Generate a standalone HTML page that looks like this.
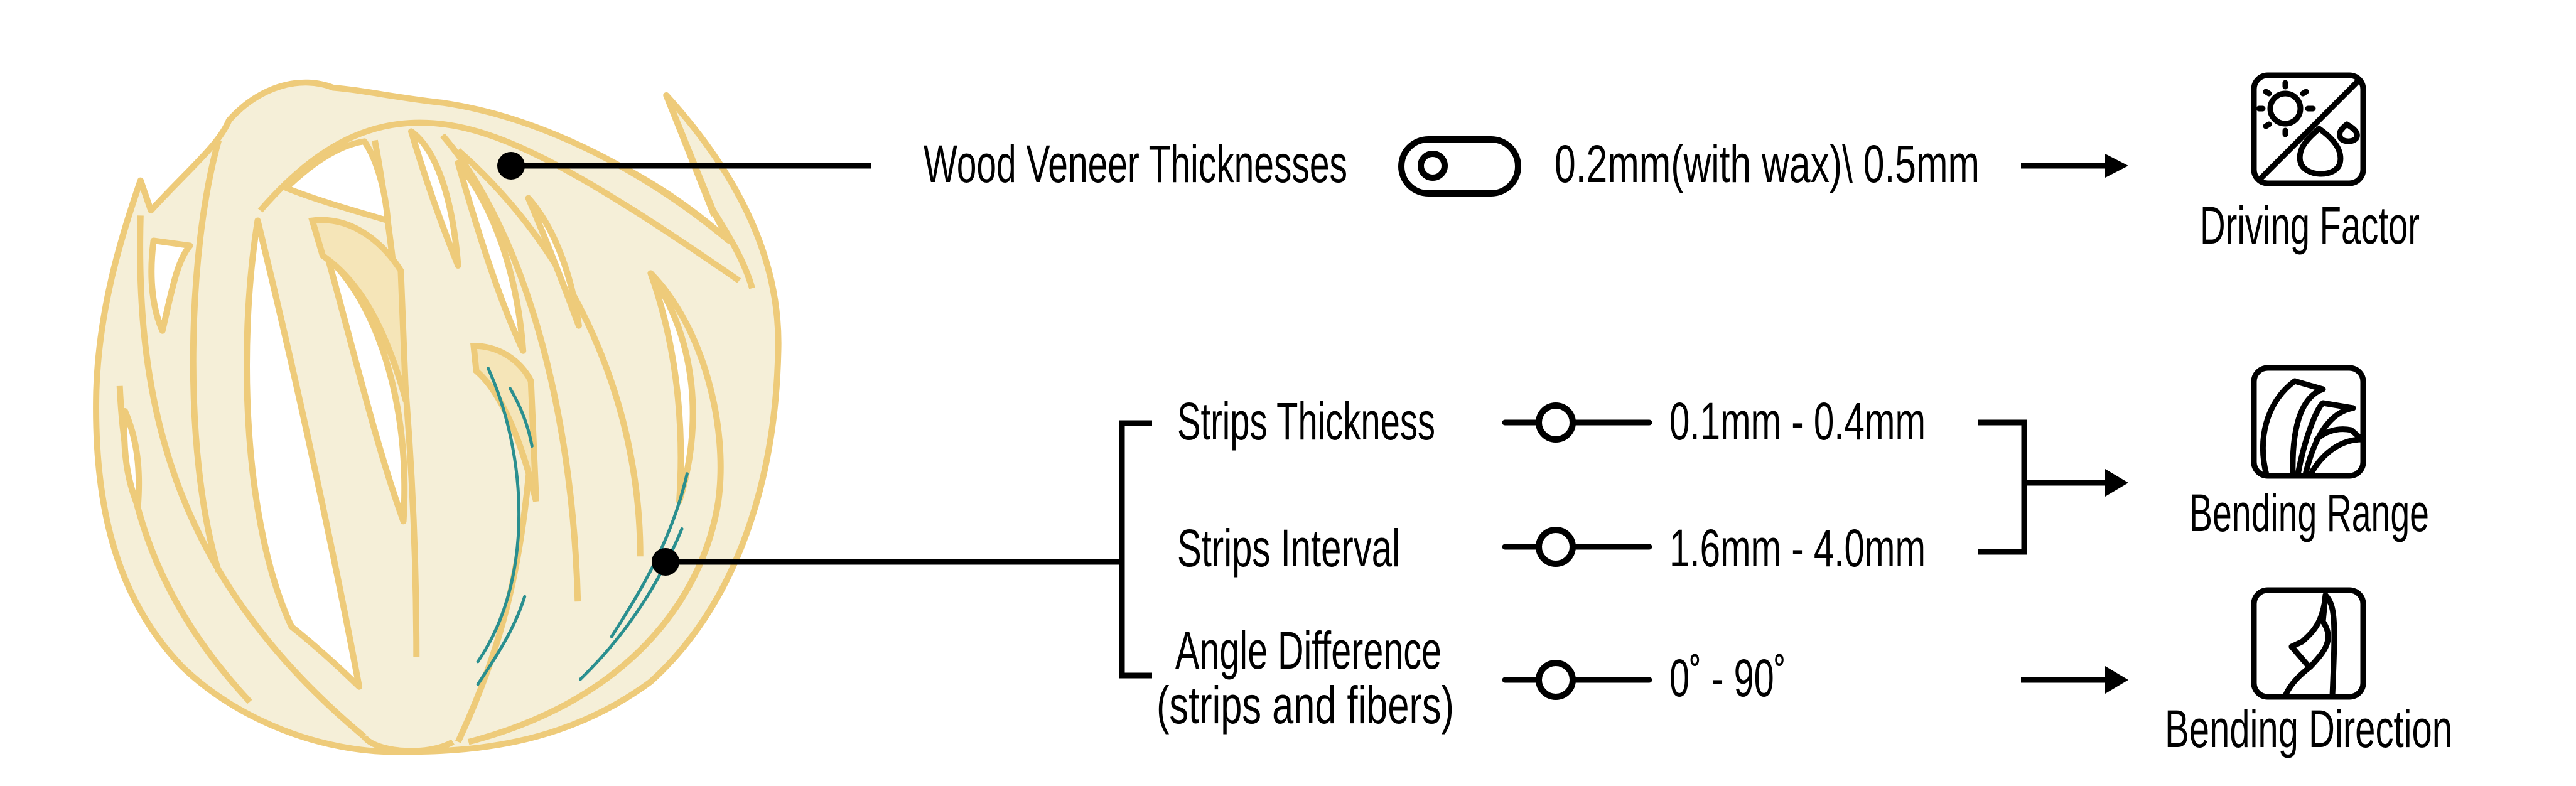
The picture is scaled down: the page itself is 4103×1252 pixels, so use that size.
<!DOCTYPE html>
<html><head><meta charset="utf-8"><style>html,body{margin:0;padding:0;background:#fff;width:4103px;height:1252px;overflow:hidden}</style></head>
<body>
<svg width="4103" height="1252" viewBox="0 0 4103 1252" xmlns="http://www.w3.org/2000/svg" font-family="'Liberation Sans', sans-serif" font-size="84">
<!-- Ball -->
<svg x="0" y="0" width="1300" height="1252" viewBox="0 0 1568 1568" preserveAspectRatio="none">
 <g fill="#f5efd8" stroke="#eecb7a" stroke-width="12" stroke-linejoin="round">
  <path d="M270,360 L290,420 C360,340 420,290 440,240 C500,170 580,150 640,175 C700,180 760,195 850,205 C1050,235 1250,350 1400,480 L1370,420 L1280,190 C1420,350 1500,520 1495,700 C1490,950 1420,1200 1250,1360 C1080,1490 900,1500 760,1500 C620,1500 460,1440 350,1330 C220,1190 180,1000 185,780 C190,620 230,480 270,360 Z"/>
 </g>
 <path d="M1279,390 C1320,415 1350,440 1372,455 L1366,425 L1285,205 Z" fill="#fff"/>
 <g fill="none" stroke="#eecb7a" stroke-width="12" stroke-linejoin="round">
  <path d="M1280,190 L1372,430"/>
  <path d="M1200,335 C1280,380 1340,425 1400,480"/>
  <path d="M1370,420 C1400,470 1430,520 1445,575"/>
  <path d="M230,770 C240,1000 300,1200 480,1400"/>
  <path d="M420,280 C360,500 350,900 420,1140"/>
  <path d="M720,280 C760,500 800,900 800,1310"/>
  <path d="M850,270 C1000,450 1100,800 1110,1200"/>
  <path d="M880,300 C1100,500 1230,800 1230,1110"/>
  <path d="M500,420 C600,300 700,240 820,245 C950,250 1100,330 1420,560"/>
  <path d="M1250,545 C1350,650 1400,850 1380,1000 C1350,1200 1200,1400 900,1480"/>
  <path d="M270,430 C260,800 330,1150 700,1470"/>
  <path d="M1020,900 C1000,1150 960,1300 880,1480"/>
  <path d="M700,1470 C720,1500 820,1510 870,1480"/>
 </g>
 <g fill="#fff" stroke="#eecb7a" stroke-width="12" stroke-linejoin="round">
  <path d="M495,440 C455,700 470,1050 560,1250 C620,1300 660,1340 690,1370 C650,1150 580,800 495,440 Z"/>
  <path d="M630,515 C720,600 790,800 775,1040 C720,880 680,700 630,515 Z"/>
  <path d="M550,375 C600,325 650,290 700,282 C725,320 740,380 745,440 C680,420 610,400 550,375 Z"/>
  <path d="M790,262 C840,300 870,400 880,530 C845,440 815,350 790,262 Z"/>
  <path d="M880,325 C955,420 995,560 1005,700 C960,600 920,470 880,325 Z"/>
  <path d="M1250,545 C1300,690 1315,850 1305,1000 C1350,850 1340,680 1250,545 Z"/>
  <path d="M1015,395 C1070,460 1100,560 1112,650 C1080,560 1050,480 1015,395 Z"/>
  <path d="M295,480 C285,560 295,620 312,660 C330,580 340,520 365,490 Z"/>
  <path d="M240,820 C235,900 245,960 265,1010 C270,940 265,880 240,820 Z"/>
 </g>
 <g fill="#f5e5b8" stroke="#eecb7a" stroke-width="12">
  <path d="M600,440 C680,430 740,490 770,540 L780,800 C740,650 690,560 620,510 Z"/>
  <path d="M910,690 C960,690 1000,720 1020,760 L1030,1000 C1000,870 960,780 915,740 Z"/>
 </g>
 <g fill="none" stroke="#2a8f8f" stroke-width="6" stroke-linecap="round">
  <path d="M938,735 C1010,900 1030,1150 918,1320"/>
  <path d="M980,775 C1000,810 1015,850 1022,890"/>
  <path d="M918,1365 C960,1300 990,1250 1008,1190"/>
  <path d="M1320,945 C1290,1080 1230,1180 1175,1270"/>
  <path d="M1310,1055 C1260,1180 1190,1280 1115,1355"/>
 </g>
</svg>
<!-- connectors -->
<g stroke="#000" stroke-width="9" fill="none">
 <line x1="814" y1="264" x2="1387" y2="264"/>
 <line x1="1060" y1="895" x2="1787" y2="895"/>
 <polyline points="1835,674 1787,674 1787,1076 1835,1076"/>
 <polyline points="3150,673 3224,673 3224,879 3150,879"/>
 <line x1="3224" y1="769" x2="3360" y2="769"/>
 <line x1="3219" y1="264" x2="3360" y2="264"/>
 <line x1="3219" y1="1083" x2="3360" y2="1083"/>
 <line x1="2397" y1="673" x2="2627" y2="673" stroke-linecap="round"/>
 <line x1="2397" y1="871" x2="2627" y2="871" stroke-linecap="round"/>
 <line x1="2397" y1="1083" x2="2627" y2="1083" stroke-linecap="round"/>
</g>
<circle cx="814" cy="264" r="22"/>
<circle cx="1060" cy="895" r="22"/>
<g fill="#000">
 <polygon points="3353,245 3390,264 3353,283"/>
 <polygon points="3353,747 3390,769 3353,791"/>
 <polygon points="3353,1061 3390,1083 3353,1105"/>
</g>
<g fill="#fff" stroke="#000" stroke-width="10">
 <circle cx="2478" cy="673" r="27"/>
 <circle cx="2478" cy="871" r="27"/>
 <circle cx="2478" cy="1083" r="27"/>
 <rect x="2232" y="222" width="186" height="86" rx="43"/>
 <circle cx="2282" cy="264" r="19"/>
</g>
<!-- icons -->
<g fill="none" stroke="#000" stroke-width="9" stroke-linecap="round" stroke-linejoin="round">
 <rect x="3590" y="120" width="174" height="172" rx="22"/>
 <line x1="3600" y1="285" x2="3758" y2="127"/>
 <circle cx="3640" cy="173" r="24"/>
 <line x1="3640" y1="132" x2="3640" y2="138"/><line x1="3640" y1="208" x2="3640" y2="214"/>
 <line x1="3598" y1="173" x2="3604" y2="173"/><line x1="3676" y1="173" x2="3684" y2="173"/>
 <line x1="3609" y1="146" x2="3614" y2="149"/><line x1="3668" y1="149" x2="3673" y2="146"/>
 <line x1="3609" y1="201" x2="3614" y2="198"/>
 <path d="M3694,205 C3670,225 3660,240 3664,258 C3670,282 3720,284 3727,260 C3732,238 3715,220 3694,205 Z"/>
 <path d="M3738,198 C3728,206 3724,212 3728,220 C3734,228 3752,226 3754,218 C3756,210 3748,204 3738,198 Z"/>
 <rect x="3590" y="586" width="174" height="172" rx="22"/>
 <path d="M3610,756 C3595,700 3610,640 3655,607 L3700,620 C3670,630 3650,670 3652,756"/>
 <path d="M3660,756 C3670,700 3690,650 3700,642 L3748,650 C3720,655 3690,680 3672,756"/>
 <path d="M3680,756 C3700,720 3730,700 3762,700 L3745,685 C3720,680 3700,690 3690,700"/>
 <rect x="3590" y="940" width="174" height="170" rx="22"/>
 <path d="M3640,1108 C3650,1085 3670,1070 3680,1062 C3700,1040 3720,1020 3700,990 L3704,948 C3720,965 3720,990 3715,1108"/>
 <path d="M3650,1030 L3667,1022 C3680,1010 3700,995 3704,948"/>
 <path d="M3650,1030 L3676,1060"/>
</g>
<!-- text -->
<g fill="#000">
 <text x="1471" y="290" textLength="675" lengthAdjust="spacingAndGlyphs">Wood Veneer Thicknesses</text>
 <text x="2476" y="290" textLength="677" lengthAdjust="spacingAndGlyphs">0.2mm(with wax)\ 0.5mm</text>
 <text x="3504" y="388" textLength="350" lengthAdjust="spacingAndGlyphs">Driving Factor</text>
 <text x="3487" y="846" textLength="382" lengthAdjust="spacingAndGlyphs">Bending Range</text>
 <text x="3448" y="1190" textLength="458" lengthAdjust="spacingAndGlyphs">Bending Direction</text>
 <text x="1875" y="700" textLength="411" lengthAdjust="spacingAndGlyphs">Strips Thickness</text>
 <text x="1875" y="902" textLength="355" lengthAdjust="spacingAndGlyphs">Strips Interval</text>
 <text x="1872" y="1065" textLength="424" lengthAdjust="spacingAndGlyphs">Angle Difference</text>
 <text x="1842" y="1152" textLength="474" lengthAdjust="spacingAndGlyphs">(strips and fibers)</text>
 <text x="2659" y="700" textLength="408" lengthAdjust="spacingAndGlyphs">0.1mm - 0.4mm</text>
 <text x="2659" y="902" textLength="408" lengthAdjust="spacingAndGlyphs">1.6mm - 4.0mm</text>
 <text x="2659" y="1109" textLength="186" lengthAdjust="spacingAndGlyphs">0˚ - 90˚</text>
</g>
</svg>
</body></html>
